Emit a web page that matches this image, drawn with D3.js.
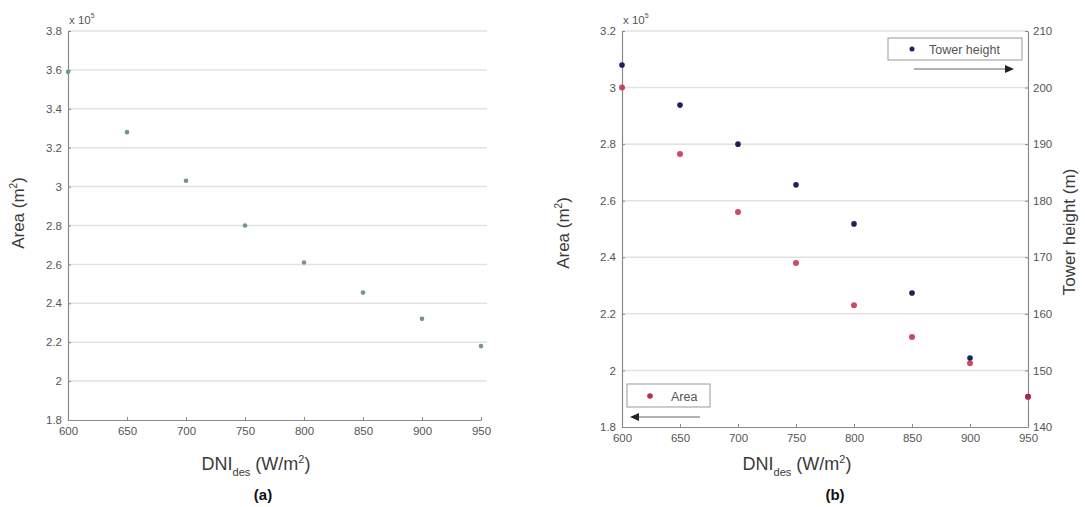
<!DOCTYPE html>
<html><head><meta charset="utf-8">
<script src="https://cdn.jsdelivr.net/npm/d3@7"></script>
<style>body{margin:0;background:#fff}svg{display:block}text{font-family:"Liberation Sans",Arial,sans-serif}</style>
</head><body>
<svg id="c" width="1085" height="507"></svg>
<script>
const dni = [600, 650, 700, 750, 800, 850, 900, 950];
const areaA = [3.59, 3.28, 3.03, 2.80, 2.61, 2.455, 2.32, 2.18];
const areaB = [3.00, 2.765, 2.56, 2.38, 2.23, 2.118, 2.025, 1.906];
const towerB = [204.0, 196.9, 190.0, 182.8, 175.9, 163.7, 152.2, 145.4];
const xTicks = [600, 650, 700, 750, 800, 850, 900, 950];
const yTicksA = [1.8, 2, 2.2, 2.4, 2.6, 2.8, 3, 3.2, 3.4, 3.6, 3.8];
const yTicksB = [1.8, 2, 2.2, 2.4, 2.6, 2.8, 3, 3.2];
const yTicksTower = [140, 150, 160, 170, 180, 190, 200, 210];

const svg = d3.select("#c");
const fmt = d => String(+d.toFixed(1));
const axisCol = "#8a8a8a", tickCol = "#555", gridCol = "#e2e2e2";

function styleAxis(g){
  g.select(".domain").attr("stroke", axisCol).attr("stroke-width", 1.2);
  g.selectAll(".tick line").attr("stroke", axisCol);
  g.selectAll(".tick text").attr("fill", tickCol).style("font-size", "11.5px").style("font-family", "Liberation Sans, Arial, sans-serif");
}

function xTitle(x, y){
  const t = svg.append("text").attr("x", x).attr("y", y).attr("text-anchor", "middle")
    .attr("fill", "#3a3a3a").style("font-size", "18px");
  t.append("tspan").text("DNI");
  t.append("tspan").attr("dy", 6).style("font-size", "11px").text("des");
  t.append("tspan").attr("dy", -6).text(" (W/m");
  t.append("tspan").attr("dy", -7).style("font-size", "11px").text("2");
  t.append("tspan").attr("dy", 7).text(")");
}
function rotTitle(x, y, main, sup, tail){
  const t = svg.append("text").attr("transform", `translate(${x},${y}) rotate(-90)`)
    .attr("text-anchor", "middle").attr("fill", "#3a3a3a").style("font-size", "17px");
  t.append("tspan").text(main);
  if (sup){
    t.append("tspan").attr("dy", -7).style("font-size", "10px").text(sup);
    t.append("tspan").attr("dy", 7).text(tail);
  }
}
function expLabel(x, y){
  const t = svg.append("text").attr("x", x).attr("y", y).attr("fill", tickCol).style("font-size", "11.5px");
  t.append("tspan").text("x 10");
  t.append("tspan").attr("dy", -6).style("font-size", "7px").text("5");
}

// ---------- Panel (a) ----------
{
  const L = 68, R = 481, T = 31, B = 420;
  const x = d3.scaleLinear().domain([600, 950]).range([L, R]);
  const y = d3.scaleLinear().domain([1.8, 3.8]).range([B, T]);
  svg.append("g").selectAll("line").data(yTicksA.slice(1)).join("line")
    .attr("x1", L).attr("x2", R + 6).attr("y1", d => y(d)).attr("y2", d => y(d))
    .attr("stroke", gridCol).attr("stroke-width", 1.5);
  const gx = svg.append("g").attr("transform", `translate(0,${B})`)
    .call(d3.axisBottom(x).tickValues(xTicks).tickSizeInner(-3).tickSizeOuter(0).tickPadding(7));
  styleAxis(gx);
  const gy = svg.append("g").attr("transform", `translate(${L},0)`)
    .call(d3.axisLeft(y).tickValues(yTicksA).tickFormat(fmt).tickSizeInner(-3).tickSizeOuter(0).tickPadding(6));
  styleAxis(gy);
  svg.append("g").selectAll("circle").data(dni).join("circle")
    .attr("cx", d => x(d)).attr("cy", (d, i) => y(areaA[i])).attr("r", 2.3)
    .attr("fill", "#6f958d");
  expLabel(L + 1, 24);
  xTitle(256, 470);
  rotTitle(24, 213, "Area (m", "2", ")");
  svg.append("text").attr("x", 263).attr("y", 500).attr("text-anchor", "middle")
    .style("font-size", "15px").style("font-weight", "bold").attr("fill", "#111").text("(a)");
}

// ---------- Panel (b) ----------
{
  const L = 622, R = 1028, T = 31, B = 427;
  const x = d3.scaleLinear().domain([600, 950]).range([L, R]);
  const y = d3.scaleLinear().domain([1.8, 3.2]).range([B, T]);
  const y2 = d3.scaleLinear().domain([140, 210]).range([B, T]);
  svg.append("g").selectAll("line").data(yTicksB.slice(1)).join("line")
    .attr("x1", L).attr("x2", R).attr("y1", d => y(d)).attr("y2", d => y(d))
    .attr("stroke", gridCol).attr("stroke-width", 1.5);
  const gx = svg.append("g").attr("transform", `translate(0,${B})`)
    .call(d3.axisBottom(x).tickValues(xTicks).tickSizeInner(-3).tickSizeOuter(0).tickPadding(7));
  styleAxis(gx);
  const gy = svg.append("g").attr("transform", `translate(${L},0)`)
    .call(d3.axisLeft(y).tickValues(yTicksB).tickFormat(fmt).tickSizeInner(-3).tickSizeOuter(0).tickPadding(6));
  styleAxis(gy);
  const gy2 = svg.append("g").attr("transform", `translate(${R},0)`)
    .call(d3.axisRight(y2).tickValues(yTicksTower).tickSizeInner(-3).tickSizeOuter(0).tickPadding(5));
  styleAxis(gy2);

  svg.append("g").selectAll("circle").data(dni).join("circle")
    .attr("cx", d => x(d)).attr("cy", (d, i) => y2(towerB[i])).attr("r", 2.8)
    .attr("fill", "#1f1f66");
  svg.append("g").selectAll("circle").data(dni).join("circle")
    .attr("cx", d => x(d)).attr("cy", (d, i) => y(areaB[i])).attr("r", 3)
    .attr("fill", "#c42a4c").attr("fill-opacity", 0.85);

  // legends
  svg.append("rect").attr("x", 888).attr("y", 38).attr("width", 134).attr("height", 22)
    .attr("fill", "#fff").attr("stroke", "#999");
  svg.append("circle").attr("cx", 912).attr("cy", 49).attr("r", 2.5).attr("fill", "#1f1f66");
  svg.append("text").attr("x", 929).attr("y", 54).attr("fill", "#555").style("font-size", "12.5px").text("Tower height");
  svg.append("line").attr("x1", 914).attr("x2", 1006).attr("y1", 69).attr("y2", 69).attr("stroke", "#999").attr("stroke-width", 1.5);
  svg.append("path").attr("d", "M1005,65 L1014,69 L1005,73 Z").attr("fill", "#222");

  svg.append("rect").attr("x", 627).attr("y", 384).attr("width", 83).attr("height", 23)
    .attr("fill", "#fff").attr("stroke", "#999");
  svg.append("circle").attr("cx", 650).attr("cy", 396).attr("r", 2.8).attr("fill", "#c42a4c");
  svg.append("text").attr("x", 671).attr("y", 401).attr("fill", "#555").style("font-size", "12.5px").text("Area");
  svg.append("line").attr("x1", 638).attr("x2", 700).attr("y1", 417).attr("y2", 417).attr("stroke", "#999").attr("stroke-width", 1.5);
  svg.append("path").attr("d", "M639,413 L630,417 L639,421 Z").attr("fill", "#222");

  expLabel(L + 1, 24);
  xTitle(797, 470);
  rotTitle(569, 233, "Area (m", "2", ")");
  svg.append("text").attr("transform", `translate(1075,232) rotate(-90)`)
    .attr("text-anchor", "middle").attr("fill", "#3a3a3a").style("font-size", "17px").text("Tower height (m)");
  svg.append("text").attr("x", 835).attr("y", 500).attr("text-anchor", "middle")
    .style("font-size", "15px").style("font-weight", "bold").attr("fill", "#111").text("(b)");
}
</script>
</body></html>
